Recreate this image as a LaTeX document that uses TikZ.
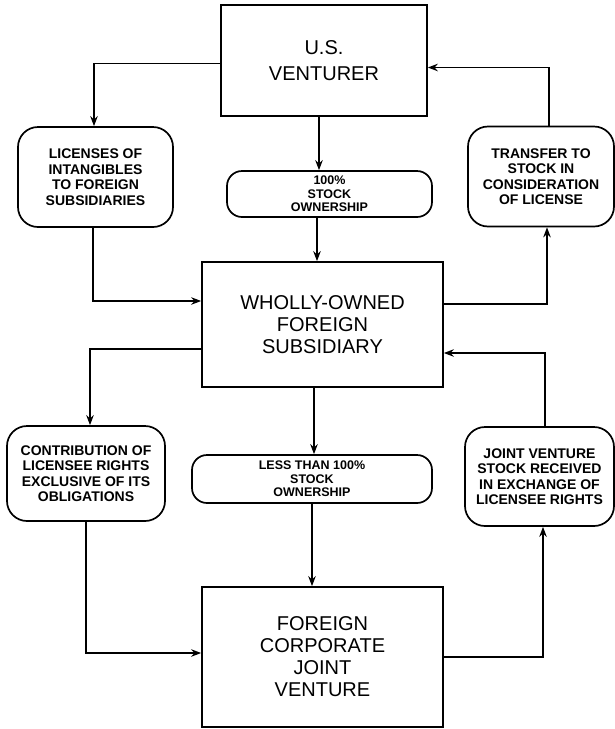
\documentclass[tikz,border=0pt]{standalone}
\usepackage{fontspec}
\setmainfont{Liberation Sans}
\usetikzlibrary{arrows.meta,calc}
\begin{document}
\begin{tikzpicture}[x=1pt,y=-1pt,
  bigbox/.style={draw, rectangle, line width=1.7pt, align=center, inner sep=0pt,
    font=\fontsize{20}{22}\selectfont},
  sidebox/.style={draw, rectangle, line width=1.7pt, rounded corners=20pt, align=center, inner sep=0pt,
    font=\bfseries\fontsize{14}{15.5}\selectfont},
  pill/.style={draw, rectangle, line width=1.7pt, rounded corners=15pt, align=center, inner sep=0pt,
    font=\bfseries\fontsize{12.5}{13.5}\selectfont},
  arr/.style={-{Stealth[length=10pt,width=7.5pt]}, line width=1.6pt}]
\useasboundingbox (0,0) rectangle (615,729);
\fill[white] (0,0) rectangle (615,729);

% main boxes
\node[bigbox, minimum width=206pt, minimum height=111pt, text depth=-8pt,
  font=\fontsize{20}{26}\selectfont] (US) at (324,60.5) {U.S.\\VENTURER};
\node[bigbox, minimum width=241pt, minimum height=125pt] (WO) at (322.5,324.5) {WHOLLY-OWNED\\FOREIGN\\SUBSIDIARY};
\node[bigbox, minimum width=241pt, minimum height=140pt] (JV) at (322.5,657) {FOREIGN\\CORPORATE\\JOINT\\VENTURE};

% side boxes
\node[sidebox, minimum width=155pt, minimum height=100pt] (Lic) at (95.5,177) {LICENSES OF\\INTANGIBLES\\TO FOREIGN\\SUBSIDIARIES};
\node[sidebox, minimum width=146pt, minimum height=100pt] (Trans) at (541,176.5) {TRANSFER TO\\STOCK IN\\CONSIDERATION\\OF LICENSE};
\node[sidebox, minimum width=158pt, minimum height=95pt] (Contr) at (86,473.5) {CONTRIBUTION OF\\LICENSEE RIGHTS\\EXCLUSIVE OF ITS\\OBLIGATIONS};
\node[sidebox, minimum width=149pt, minimum height=99pt] (JVS) at (539.5,476.5) {JOINT VENTURE\\STOCK RECEIVED\\IN EXCHANGE OF\\LICENSEE RIGHTS};

% pills
\node[pill, minimum width=205pt, minimum height=46pt] (P100) at (329.5,194) {100\%\\STOCK\\OWNERSHIP};
\node[pill, minimum width=240pt, minimum height=48pt] (Less) at (312,479) {LESS THAN 100\%\\STOCK\\OWNERSHIP};

% connectors
\draw[arr] ([yshift=-3pt]US.west) -| ([xshift=-1.5pt]Lic.north);
\draw[arr] ([xshift=-5pt]US.south) -- ([xshift=-5pt]US.south |- P100.north);
\draw[arr] ([xshift=8pt]Trans.north) |- ([yshift=-7pt]US.east);
\draw[arr] ([xshift=-2.5pt]Lic.south) |- ([yshift=23.5pt]WO.west);
\draw[arr] ([xshift=-12.5pt]P100.south) -- ([xshift=-12.5pt]P100.south |- WO.north);
\draw[arr] ([yshift=20.5pt]WO.east) -| ([xshift=6pt]Trans.south);
\draw[arr] ([yshift=-24.5pt]WO.west) -| ([xshift=4pt]Contr.north);
\draw[arr] ([xshift=-8.5pt]WO.south) -- ([xshift=-8.5pt]WO.south |- Less.north);
\draw[arr] ([xshift=5.5pt]JVS.north) |- ([yshift=-28.5pt]WO.east);
\draw[arr] (Contr.south) |- ([yshift=4pt]JV.west);
\draw[arr] (Less.south) -- (Less.south |- JV.north);
\draw[arr] (JV.east) -| ([xshift=3.5pt]JVS.south);
\end{tikzpicture}
\end{document}
